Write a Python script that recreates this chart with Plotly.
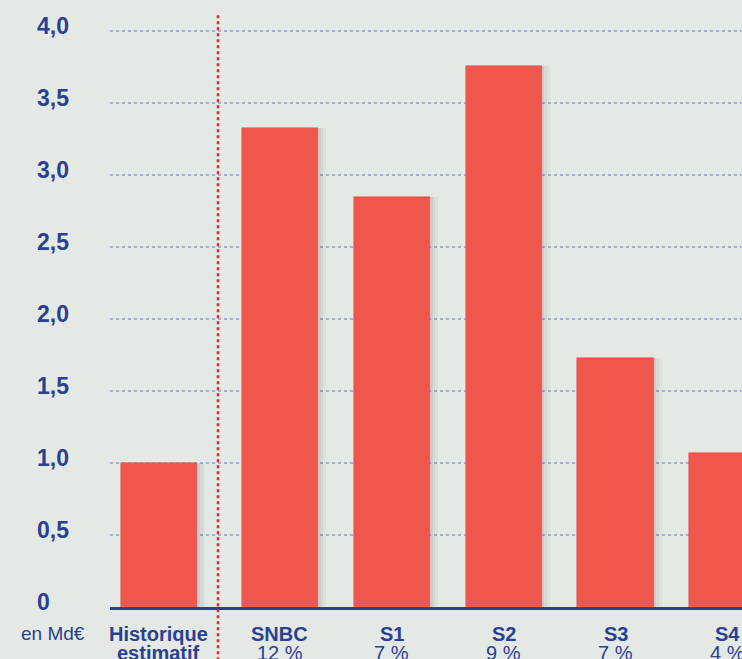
import plotly.graph_objects as go

# Investissements annuels, en milliards d'euros
categories = ["Historique", "SNBC", "S1", "S2", "S3", "S4"]
category_names = ["Historique", "SNBC", "S1", "S2", "S3", "S4"]
category_notes = ["estimatif", "12 %", "7 %", "9 %", "7 %", "4 %"]
values = [1.0, 3.33, 2.85, 3.76, 1.73, 1.07]
y_ticks = [0, 0.5, 1.0, 1.5, 2.0, 2.5, 3.0, 3.5, 4.0]
y_tick_labels = ["0", "0,5", "1,0", "1,5", "2,0", "2,5", "3,0", "3,5", "4,0"]
unit_label = "en Md€"

BG = "#e4e9e5"
BAR = "#ef574c"
NAVY = "#2a4190"
GRID = "#9eaedb"
SEP = "#e5262d"
FONT = "Liberation Sans"

W, H = 742, 659
ML, MR, MT, MB = 110, 0, 14, 52
bar_w = 0.68
# the historical bar sits a little left of the scenario grid
shifts = [-0.08] + [0.0] * (len(categories) - 1)
offsets = [-bar_w / 2 + s for s in shifts]

fig = go.Figure()

# soft drop shadow to the right of each bar
for k, alpha in enumerate([0.06, 0.05, 0.04]):
    fig.add_trace(go.Bar(
        x=categories, y=values, width=bar_w,
        offset=[o + 0.025 * (k + 1) for o in offsets],
        marker=dict(color=f"rgba(60,60,60,{alpha})", line_width=0),
        hoverinfo="skip", showlegend=False,
    ))

fig.add_trace(go.Bar(
    x=categories, y=values, width=bar_w, offset=offsets,
    marker=dict(color=BAR, line=dict(color="#e8453b", width=0.5)),
    showlegend=False,
))

# dotted separator between history and scenarios
fig.add_shape(
    type="line", xref="x", yref="paper",
    x0=0.448, x1=0.448, y0=-0.12, y1=1.0,
    line=dict(color=SEP, width=2.5, dash="dot"),
    layer="above",
)

# left-aligned y tick labels
for v, t in zip(y_ticks, y_tick_labels):
    fig.add_annotation(
        x=(35 - ML) / (W - ML - MR), xref="paper", y=v, yref="y",
        xanchor="left", yanchor="middle", yshift=5,
        text=f"<b>{t}</b>", showarrow=False,
        font=dict(family=FONT, size=23, color=NAVY),
    )

# category labels: bold name, then a note line set tightly beneath it
for i, (name, note) in enumerate(zip(category_names, category_notes)):
    bold = i == 0
    for txt, ys, b in ((name, -14, True), (note, -33, bold)):
        fig.add_annotation(
            x=i + shifts[i], xref="x", y=0, yref="paper",
            xanchor="center", yanchor="top", yshift=ys,
            text=f"<b>{txt}</b>" if b else txt, showarrow=False,
            font=dict(family=FONT, size=20, color=NAVY),
        )

fig.add_annotation(
    x=(19 - ML) / (W - ML - MR), xref="paper", y=-0.045, yref="paper",
    xanchor="left", yanchor="middle", text=unit_label, showarrow=False,
    font=dict(family=FONT, size=19, color=NAVY),
)

fig.update_layout(
    width=W, height=H,
    margin=dict(l=ML, r=MR, t=MT, b=MB),
    paper_bgcolor=BG, plot_bgcolor=BG,
    barmode="overlay", bargap=0,
    font=dict(family=FONT, color=NAVY),
)
fig.update_xaxes(
    range=[-0.517, 5.13], automargin=False,
    showticklabels=False,
    showgrid=False, zeroline=False,
    showline=True, linecolor=NAVY, linewidth=2.5, ticks="",
)
fig.update_yaxes(
    range=[0, 4.12], tickvals=y_ticks, showticklabels=False, automargin=False,
    showgrid=True, gridcolor=GRID, gridwidth=2, griddash="dot",
    zeroline=False, showline=False, ticks="",
)

fig.write_html("out.html")
